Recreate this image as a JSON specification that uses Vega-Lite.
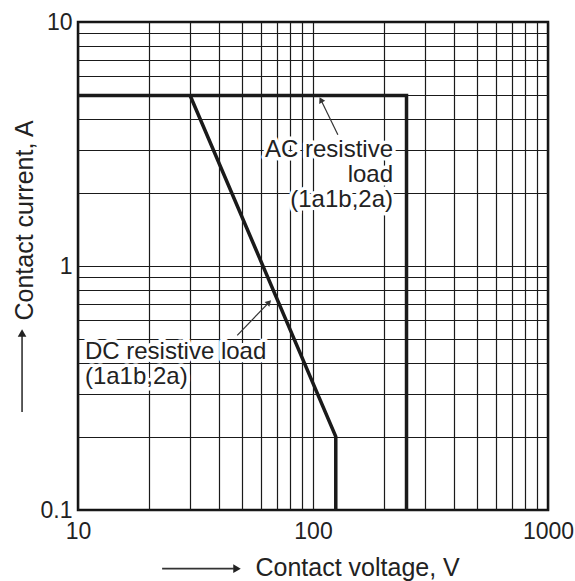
{
  "$schema": "https://vega.github.io/schema/vega-lite/v6.json",
  "width": 470,
  "height": 488,
  "autosize": {"type": "none"},
  "padding": {"left": 78, "top": 22, "right": 27, "bottom": 71},
  "background": "white",
  "config": {
    "font": "Liberation Sans",
    "view": {"stroke": "#111", "strokeWidth": 2.5},
    "axis": {
      "domain": false,
      "ticks": false,
      "grid": true,
      "gridColor": "#1a1a1a",
      "gridWidth": 1.2,
      "gridOpacity": 1,
      "labelFont": "Liberation Sans",
      "labelFontSize": 23,
      "labelColor": "#222",
      "labelFlush": false,
      "labelOverlap": false,
      "titleFont": "Liberation Sans",
      "titleFontSize": 25,
      "titleFontWeight": "normal",
      "titleColor": "#222"
    }
  },
  "datasets": {
    "curves": [
      {"series": "AC", "o": 0, "V": 10, "I": 5},
      {"series": "AC", "o": 1, "V": 250, "I": 5},
      {"series": "AC", "o": 2, "V": 250, "I": 0.1},
      {"series": "DC", "o": 0, "V": 30, "I": 5},
      {"series": "DC", "o": 1, "V": 125, "I": 0.2},
      {"series": "DC", "o": 2, "V": 125, "I": 0.1}
    ],
    "acText": [
      {"V": 219, "I": 2.99, "label": "AC resistive"},
      {"V": 219, "I": 2.36, "label": "load"},
      {"V": 219, "I": 1.865, "label": "(1a1b,2a)"}
    ],
    "dcText": [
      {"V": 10.7, "I": 0.445, "label": "DC resistive load"},
      {"V": 10.7, "I": 0.351, "label": "(1a1b,2a)"}
    ],
    "leaders": [
      {"name": "AC", "V": 127.6, "I": 3.45, "V2": 108, "I2": 4.8},
      {"name": "DC", "V": 47.6, "I": 0.52, "V2": 65, "I2": 0.71}
    ],
    "axisArrows": [
      {"name": "x", "V": 22.8, "I": 0.0575, "V2": 46, "I2": 0.0575, "hx": 47.5, "hy": 0.0575},
      {"name": "y", "V": 5.78, "I": 0.252, "V2": 5.78, "I2": 0.52, "hx": 5.78, "hy": 0.532}
    ]
  },
  "layer": [
    {
      "data": {"name": "curves"},
      "mark": {"type": "line", "color": "#1a1a1a", "strokeWidth": 3.5, "strokeJoin": "miter"},
      "encoding": {
        "x": {
          "field": "V", "type": "quantitative",
          "scale": {"type": "log", "domain": [10, 1000], "nice": false},
          "axis": {
            "title": "Contact voltage, V",
            "values": [10, 20, 30, 40, 50, 60, 70, 80, 90, 100, 200, 300, 400, 500, 600, 700, 800, 900, 1000],
            "labelExpr": "datum.value === 10 ? '10' : datum.value === 100 ? '100' : datum.value === 1000 ? '1000' : ''",
            "labelPadding": 10,
            "titleAlign": "left",
            "titleBaseline": "alphabetic",
            "titleAngle": 0,
            "titleX": 177,
            "titleY": 65
          }
        },
        "y": {
          "field": "I", "type": "quantitative",
          "scale": {"type": "log", "domain": [0.1, 10], "nice": false},
          "axis": {
            "title": "Contact current, A",
            "values": [0.1, 0.2, 0.3, 0.4, 0.5, 0.6, 0.7, 0.8, 0.9, 1, 2, 3, 4, 5, 6, 7, 8, 9, 10],
            "labelExpr": "datum.value === 0.1 ? '0.1' : datum.value === 1 ? '1' : datum.value === 10 ? '10' : ''",
            "labelPadding": 6,
            "titleAlign": "left",
            "titleBaseline": "alphabetic",
            "titleAngle": -90,
            "titleX": -46,
            "titleY": 298
          }
        },
        "detail": {"field": "series"},
        "order": {"field": "o", "type": "quantitative"}
      }
    },
    {
      "data": {"name": "leaders"},
      "mark": {"type": "rule", "color": "#333", "strokeWidth": 1.2},
      "encoding": {
        "x": {"field": "V", "type": "quantitative"},
        "y": {"field": "I", "type": "quantitative"},
        "x2": {"field": "V2"},
        "y2": {"field": "I2"}
      }
    },
    {
      "data": {"name": "leaders"},
      "transform": [{"filter": "datum.name === 'AC'"}],
      "mark": {"type": "point", "shape": "triangle-up", "filled": true, "color": "#333", "size": 45, "opacity": 1, "angle": 333},
      "encoding": {
        "x": {"field": "V2", "type": "quantitative"},
        "y": {"field": "I2", "type": "quantitative"}
      }
    },
    {
      "data": {"name": "leaders"},
      "transform": [{"filter": "datum.name === 'DC'"}],
      "mark": {"type": "point", "shape": "triangle-up", "filled": true, "color": "#333", "size": 45, "opacity": 1, "angle": 45},
      "encoding": {
        "x": {"field": "V2", "type": "quantitative"},
        "y": {"field": "I2", "type": "quantitative"}
      }
    },
    {
      "data": {"name": "axisArrows"},
      "mark": {"type": "rule", "color": "#333", "strokeWidth": 1.6},
      "encoding": {
        "x": {"field": "V", "type": "quantitative"},
        "y": {"field": "I", "type": "quantitative"},
        "x2": {"field": "V2"},
        "y2": {"field": "I2"}
      }
    },
    {
      "data": {"name": "axisArrows"},
      "transform": [{"filter": "datum.name === 'x'"}],
      "mark": {"type": "point", "shape": "triangle-right", "filled": true, "color": "#222", "size": 75, "opacity": 1},
      "encoding": {
        "x": {"field": "hx", "type": "quantitative"},
        "y": {"field": "hy", "type": "quantitative"}
      }
    },
    {
      "data": {"name": "axisArrows"},
      "transform": [{"filter": "datum.name === 'y'"}],
      "mark": {"type": "point", "shape": "triangle-up", "filled": true, "color": "#222", "size": 75, "opacity": 1},
      "encoding": {
        "x": {"field": "hx", "type": "quantitative"},
        "y": {"field": "hy", "type": "quantitative"}
      }
    },
    {
      "data": {"name": "acText"},
      "mark": {"type": "text", "align": "right", "baseline": "middle", "fontSize": 24, "font": "Liberation Sans", "fill": "white", "stroke": "white", "strokeWidth": 7, "strokeJoin": "round"},
      "encoding": {
        "x": {"field": "V", "type": "quantitative"},
        "y": {"field": "I", "type": "quantitative"},
        "text": {"field": "label"}
      }
    },
    {
      "data": {"name": "acText"},
      "mark": {"type": "text", "align": "right", "baseline": "middle", "fontSize": 24, "font": "Liberation Sans", "color": "#222"},
      "encoding": {
        "x": {"field": "V", "type": "quantitative"},
        "y": {"field": "I", "type": "quantitative"},
        "text": {"field": "label"}
      }
    },
    {
      "data": {"name": "dcText"},
      "mark": {"type": "text", "align": "left", "baseline": "middle", "fontSize": 24, "font": "Liberation Sans", "fill": "white", "stroke": "white", "strokeWidth": 7, "strokeJoin": "round"},
      "encoding": {
        "x": {"field": "V", "type": "quantitative"},
        "y": {"field": "I", "type": "quantitative"},
        "text": {"field": "label"}
      }
    },
    {
      "data": {"name": "dcText"},
      "mark": {"type": "text", "align": "left", "baseline": "middle", "fontSize": 24, "font": "Liberation Sans", "color": "#222"},
      "encoding": {
        "x": {"field": "V", "type": "quantitative"},
        "y": {"field": "I", "type": "quantitative"},
        "text": {"field": "label"}
      }
    }
  ]
}
